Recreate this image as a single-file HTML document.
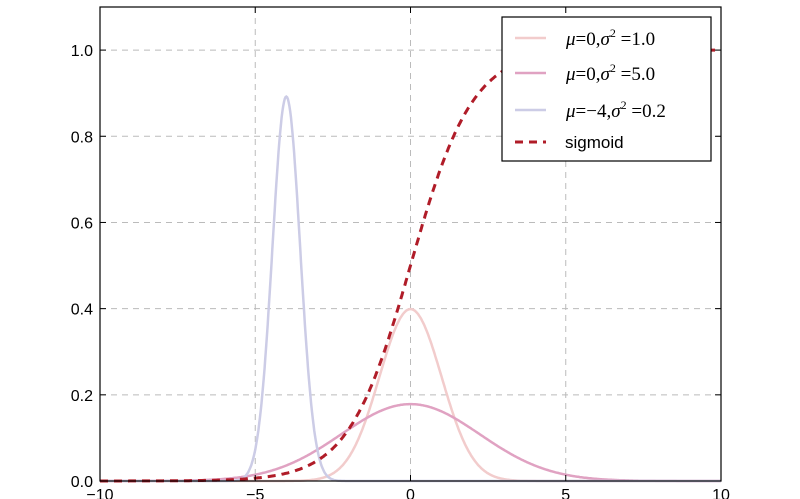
<!DOCTYPE html><html><head><style>body{margin:0;background:#fff}svg{display:block}</style></head><body>
<svg id="s" width="800" height="499" xmlns="http://www.w3.org/2000/svg" font-family="Liberation Sans, DejaVu Sans, sans-serif"></svg>
<script>
const L=100,R=721,T=7,B=481;
const X=x=>L+(x+10)/20*(R-L), Y=y=>B-y/1.1*(B-T);
let h='';
for(const x of [-5,0,5]) h+=`<line x1="${X(x)}" y1="${T}" x2="${X(x)}" y2="${B}" stroke="#bbb" stroke-dasharray="6,5" stroke-width="1"/>`;
for(const y of [0.2,0.4,0.6,0.8,1.0]) h+=`<line x1="${L}" y1="${Y(y)}" x2="${R}" y2="${Y(y)}" stroke="#bbb" stroke-dasharray="6,5" stroke-width="1"/>`;
function path(f,c,w,d){let p='';for(let i=0;i<=800;i++){const x=-10+20*i/800;p+=(i?'L':'M')+X(x).toFixed(1)+','+Y(f(x)).toFixed(1);}return `<path d="${p}" fill="none" stroke="${c}" stroke-width="${w}" ${d?'stroke-dasharray="'+d+'"':''}/>`;}
const g=(m,v)=>x=>Math.exp(-(x-m)*(x-m)/(2*v))/Math.sqrt(2*Math.PI*v);
h+=path(g(0,1),'#f2cccc',2.5);
h+=path(g(0,5),'#e0a2c2',2.5);
h+=path(g(-4,0.2),'#cccce6',2.5);
h+=path(x=>1/(1+Math.exp(-x)),'#b01c28',3,'8,6');
h+=`<rect x="${L}" y="${T}" width="${R-L}" height="${B-T}" fill="none" stroke="#000" stroke-width="1.2"/>`;
for(const y of [0,0.2,0.4,0.6,0.8,1.0]){h+=`<text x="93" y="${Y(y)+6}" font-size="16" text-anchor="end">${y.toFixed(1)}</text>`;h+=`<line x1="${L}" y1="${Y(y)}" x2="${L+6}" y2="${Y(y)}" stroke="#000"/><line x1="${R}" y1="${Y(y)}" x2="${R-6}" y2="${Y(y)}" stroke="#000"/>`;}
for(const x of [-10,-5,0,5,10]){h+=`<text x="${X(x)}" y="500" font-size="16" text-anchor="middle">${x<0?'\u2212'+(-x):x}</text>`;h+=`<line x1="${X(x)}" y1="${B}" x2="${X(x)}" y2="${B-6}" stroke="#000"/><line x1="${X(x)}" y1="${T}" x2="${X(x)}" y2="${T+6}" stroke="#000"/>`;}
h+=`<rect x="502" y="17" width="209" height="144" fill="#fff" stroke="#000" stroke-width="1.2"/>`;
const leg=[['#f2cccc','0','1.0',38],['#e0a2c2','0','5.0',73],['#cccce6','\u22124','0.2',110]];
for(const [c,m,v,y] of leg){h+=`<line x1="515" y1="${y}" x2="546" y2="${y}" stroke="${c}" stroke-width="2.5"/><text x="566" y="${y+7}" font-size="19" font-family="Liberation Serif, serif"><tspan font-style="italic">μ</tspan>=${m},<tspan font-style="italic">σ</tspan><tspan font-size="12" dy="-8">2</tspan><tspan dy="8"> =${v}</tspan></text>`;}
h+=`<line x1="515" y1="142" x2="546" y2="142" stroke="#b01c28" stroke-width="3" stroke-dasharray="8,6"/><text x="565" y="148" font-size="17">sigmoid</text>`;
document.getElementById('s').innerHTML=h;
</script></body></html>
